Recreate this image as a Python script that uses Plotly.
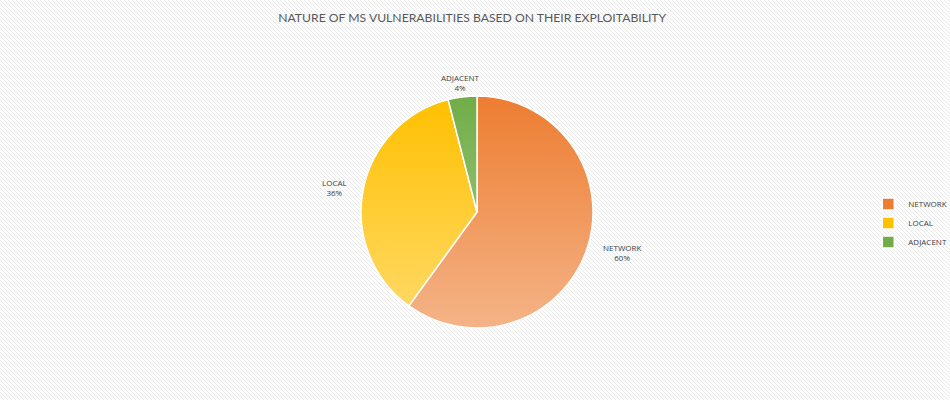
import base64
import math
import plotly.graph_objects as go

# ---- data ----
labels = ["NETWORK", "LOCAL", "ADJACENT"]
values = [60, 36, 4]
colors = ["#ED7D31", "#FFC000", "#70AD47"]
title_text = "NATURE OF MS VULNERABILITIES BASED ON THEIR EXPLOITABILITY"

W, H = 950, 400
CX, CY, R = 477, 212, 116  # pie centre / radius in pixels

dom_x = [(CX - R) / W, (CX + R) / W]
dom_y = [1 - (CY + R) / H, 1 - (CY - R) / H]

fig = go.Figure(go.Pie(
    labels=labels,
    values=values,
    sort=False,
    direction="clockwise",
    rotation=0,
    marker=dict(colors=colors, line=dict(color="white", width=1.5)),
    textinfo="none",
    hoverinfo="label+percent",
    domain=dict(x=dom_x, y=dom_y),
))

# labels placed outside the slices, computed from the data
total = sum(values)
cum = 0
annotations = []
for lab, v in zip(labels, values):
    mid = (cum + v / 2) / total * 2 * math.pi
    cum += v
    s, c = math.sin(mid), math.cos(mid)
    d = R * 1.12
    px = CX + s * d
    py = CY - c * d
    xa = "left" if s > 0.5 else ("right" if s < -0.5 else "center")
    ya = "bottom" if c > 0.5 else ("top" if c < -0.5 else "middle")
    if ya == "bottom":
        py += 12
    annotations.append(dict(
        x=px / W, y=1 - py / H, xref="paper", yref="paper",
        text=f"{lab}<br>{round(v / total * 100)}%",
        showarrow=False, xanchor=xa, yanchor=ya, align="center",
        font=dict(family="Open Sans", size=8, color="#404040"),
    ))

# background stripe pattern
bg_svg = f'''<svg xmlns="http://www.w3.org/2000/svg" width="{W}" height="{H}">
<defs><pattern id="p" patternUnits="userSpaceOnUse" width="4" height="4">
<rect width="4" height="4" fill="#ffffff"/>
<path d="M-1,-1 L5,5 M-1,3 L1,5 M3,-1 L5,1" stroke="#e8e8e8" stroke-width="1"/>
</pattern></defs>
<rect width="{W}" height="{H}" fill="url(#p)"/></svg>'''
# soft vertical gradient on the pie
gr_svg = f'''<svg xmlns="http://www.w3.org/2000/svg" width="{2*R}" height="{2*R}">
<defs><linearGradient id="g" x1="0" y1="0" x2="0" y2="1">
<stop offset="0" stop-color="#ffffff" stop-opacity="0"/>
<stop offset="1" stop-color="#ffffff" stop-opacity="0.42"/>
</linearGradient></defs>
<circle cx="{R}" cy="{R}" r="{R}" fill="url(#g)"/></svg>'''

def uri(svg):
    return "data:image/svg+xml;base64," + base64.b64encode(svg.encode()).decode()

fig.update_layout(
    width=W, height=H,
    margin=dict(l=0, r=0, t=0, b=0, autoexpand=False),
    paper_bgcolor="#f6f6f6",
    title=dict(text=title_text, x=0.497, xanchor="center", y=0.955, yanchor="middle",
               font=dict(family="Lato", size=12.2, color="#595959")),
    annotations=annotations,
    legend=dict(x=0.914, y=0.4425, xanchor="left", yanchor="middle",
                font=dict(family="Open Sans", size=8, color="#404040"),
                bgcolor="rgba(0,0,0,0)", itemwidth=30, tracegroupgap=0),
    images=[
        dict(source=uri(bg_svg), xref="paper", yref="paper", x=0, y=1,
             sizex=1, sizey=1, sizing="stretch", layer="below"),
        dict(source=uri(gr_svg), xref="paper", yref="paper",
             x=dom_x[0], y=dom_y[1], sizex=dom_x[1] - dom_x[0], sizey=dom_y[1] - dom_y[0],
             sizing="stretch", layer="above"),
    ],
)

fig.write_html("out.html", config={"displayModeBar": False},
               post_script="document.body.style.margin='0';document.body.style.overflow='hidden';")
